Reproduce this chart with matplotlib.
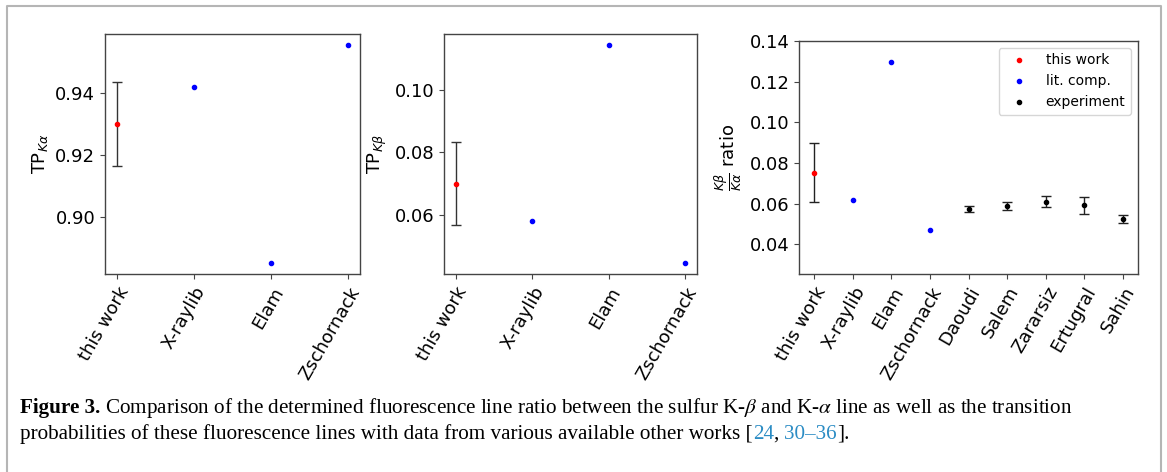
import matplotlib
matplotlib.use("Agg")
import matplotlib.pyplot as plt
from matplotlib.lines import Line2D

# ---------------- data ----------------
tp_labels = ["this work", "X-raylib", "Elam", "Zschornack"]
tp_ka = [0.930, 0.9419, 0.8853, 0.9556]
tp_ka_err = 0.0135
tp_kb = [0.0700, 0.0580, 0.1146, 0.0444]
tp_kb_err = 0.0135

ratio_labels = ["this work", "X-raylib", "Elam", "Zschornack", "Daoudi",
                "Salem", "Zararsiz", "Ertugral", "Sahin"]
ratio_this = [0.0752]
ratio_this_err = [0.0145]
ratio_lit = [0.0617, 0.1295, 0.0469]
ratio_exp = [0.0574, 0.0590, 0.0610, 0.0592, 0.0526]
ratio_exp_err = [0.0013, 0.0020, 0.0028, 0.0040, 0.0021]

W, H = 1167, 472
fig = plt.figure(figsize=(W / 100, H / 100), dpi=100)

def px(l, r, t, b):
    return [l / W, 1 - b / H, (r - l) / W, (b - t) / H]

TICK_FS = 13
SPINE_C = "#444444"

def style(ax, labels):
    ax.set_xticks(range(len(labels)))
    ax.set_xticklabels(labels, rotation=60, ha="right", rotation_mode="anchor",
                       fontsize=TICK_FS)
    ax.tick_params(labelsize=TICK_FS, color=SPINE_C)
    for s in ax.spines.values():
        s.set_color(SPINE_C)
        s.set_linewidth(1.0)

# ---- TP K-alpha ----
ax1 = fig.add_axes(px(105, 360, 34, 274))
ax1.errorbar([0], [tp_ka[0]], yerr=[tp_ka_err], fmt=".", color="red",
             ecolor="#333333", elinewidth=1, capsize=3.5)
ax1.plot(range(1, 4), tp_ka[1:], ".", color="blue")
ax1.set_ylabel(r"TP$_{K\alpha}$", fontsize=TICK_FS)
ax1.set_yticks([0.90, 0.92, 0.94])
style(ax1, tp_labels)

# ---- TP K-beta ----
ax2 = fig.add_axes(px(444, 697, 34, 274))
ax2.errorbar([0], [tp_kb[0]], yerr=[tp_kb_err], fmt=".", color="red",
             ecolor="#333333", elinewidth=1, capsize=3.5)
ax2.plot(range(1, 4), tp_kb[1:], ".", color="blue")
ax2.set_ylabel(r"TP$_{K\beta}$", fontsize=TICK_FS)
ax2.set_yticks([0.06, 0.08, 0.10])
style(ax2, tp_labels)

# ---- ratio ----
ax3 = fig.add_axes(px(799, 1138, 41, 274))
ax3.errorbar([0], ratio_this, yerr=ratio_this_err, fmt=".", color="red",
             ecolor="#222222", elinewidth=1, capsize=3.5, label="this work")
ax3.plot(range(1, 4), ratio_lit, ".", color="blue", label="lit. comp.")
ax3.errorbar(range(4, 9), ratio_exp, yerr=ratio_exp_err, fmt=".", color="black",
             ecolor="#222222", elinewidth=1, capsize=3.5, label="experiment")
ax3.set_ylim(0.0255, 0.14)
ax3.set_yticks([0.04, 0.06, 0.08, 0.10, 0.12, 0.14])
ax3.set_ylabel(r"$\frac{K\beta}{K\alpha}$ ratio", fontsize=TICK_FS)
style(ax3, ratio_labels)
h = [Line2D([], [], ls="none", marker=".", color=c) for c in ("red", "blue", "black")]
ax3.legend(h, ["this work", "lit. comp.", "experiment"], loc="upper right",
           fontsize=10, handlelength=2.2)

# ---- page border ----
fig.add_artist(Line2D([7 / W, 7 / W, 1161 / W, 1161 / W],
                      [0, 1 - 6 / H, 1 - 6 / H, 0], transform=fig.transFigure,
                      color="#b5b5b5", lw=1.5))

# ---- caption ----
serif = ["Liberation Serif", "DejaVu Serif"]
CAP_FS = 15.25
fig.canvas.draw()
renderer = fig.canvas.get_renderer()

def run(pieces, x0, y):
    x = x0
    for txt, kw in pieces:
        t = fig.text(x / W, 1 - y / H, txt, fontsize=CAP_FS, family=serif,
                     va="baseline", ha="left", math_fontfamily="stix", **kw)
        bb = t.get_window_extent(renderer)
        x = bb.x1

blue_ref = "#2b8cc4"
run([("Figure 3.", dict(weight="bold")),
     (" Comparison of the determined fluorescence line ratio between the sulfur K-$\\beta$ and K-$\\alpha$ line as well as the transition", {})],
    20, 413)
run([("probabilities of these fluorescence lines with data from various available other works [", {}),
     ("24", dict(color=blue_ref)), (", ", {}), ("30\u201336", dict(color=blue_ref)),
     ("].", {})], 20, 439)

fig.savefig("out.png", dpi=100)
